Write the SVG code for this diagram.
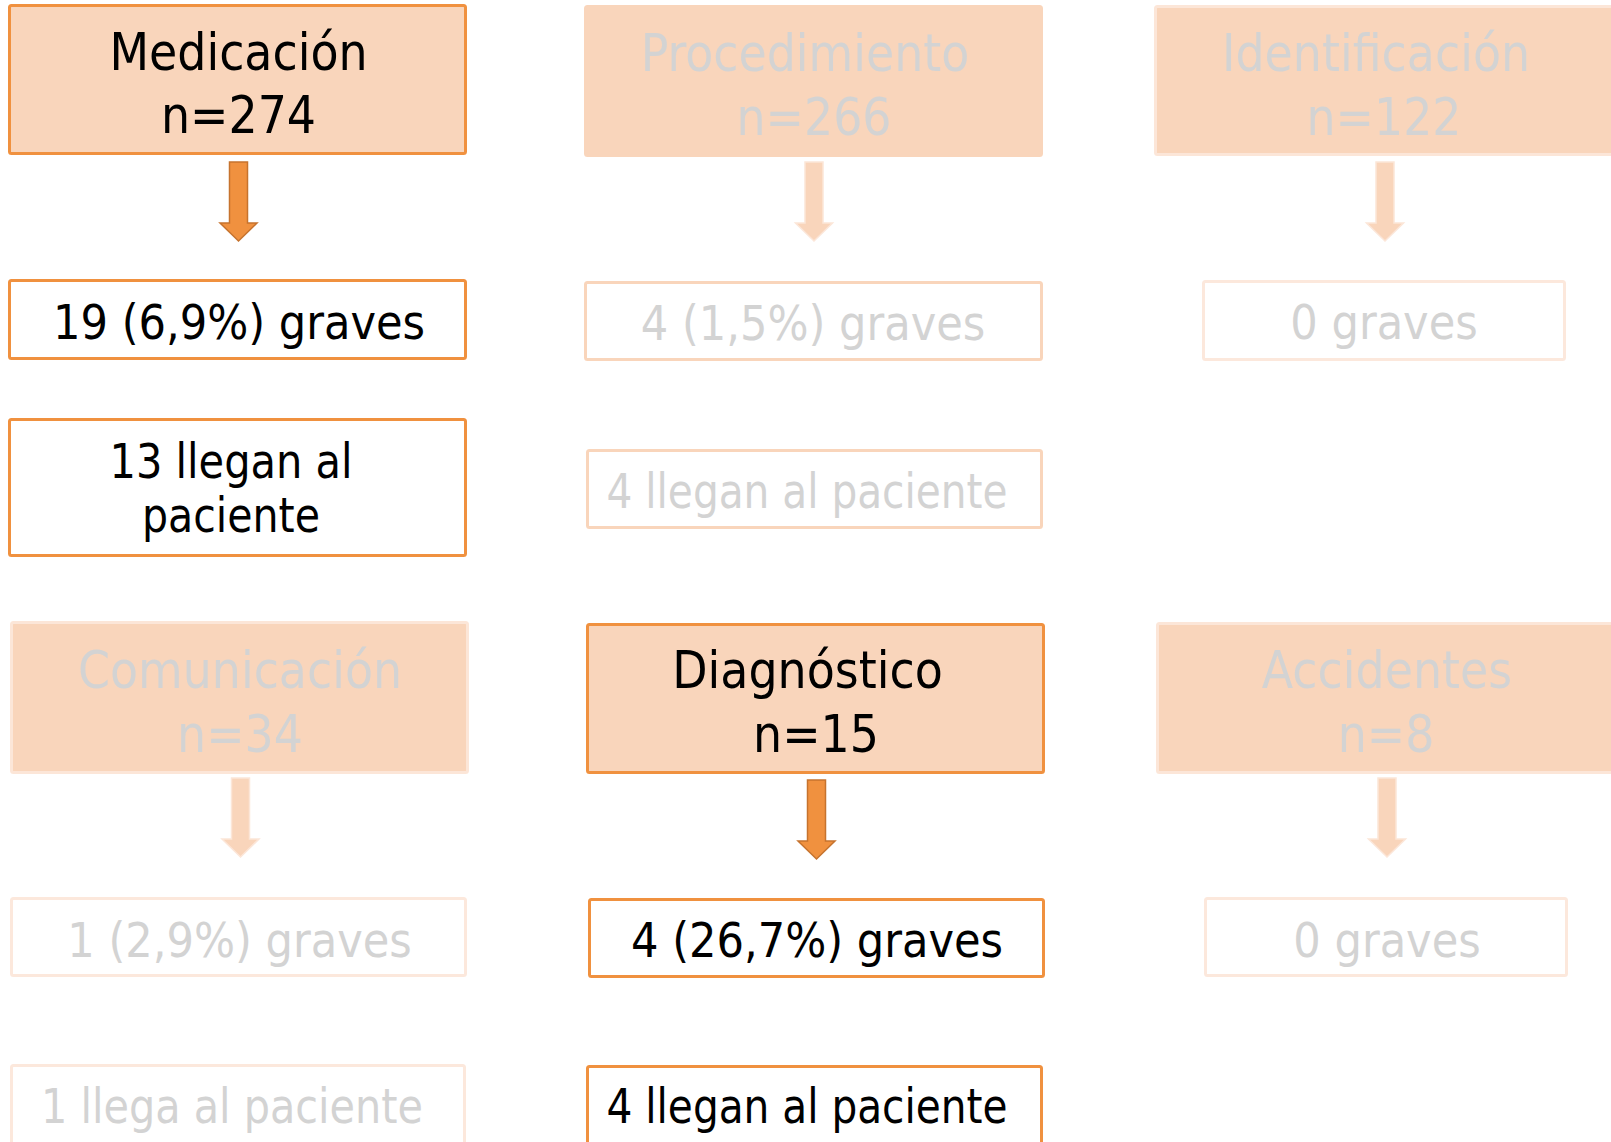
<svg xmlns="http://www.w3.org/2000/svg" width="1611" height="1142" viewBox="0 0 1611 1142">
<style>
text{font-family:"DejaVu Sans Condensed","DejaVu Sans",sans-serif;text-anchor:middle}
.t{font-size:51px}
.b{font-size:48px}
.dark{fill:#000}
.fade{fill:#D3D3D3}
.hi{fill:#F9D5BB;stroke:#F0913F;stroke-width:3}
.hiw{fill:#fff;stroke:#F0913F;stroke-width:3}
.lo{fill:#F9D5BB;stroke:#FCE6D8;stroke-width:3}
.lo0{fill:#F9D5BB;stroke:#F9D5BB;stroke-width:3}
.low{fill:#fff;stroke:#F9D5BB;stroke-width:3}
.low2{fill:#fff;stroke:#FCE8DC;stroke-width:3}
.ahi{fill:#F0913F;stroke:#C6732E;stroke-width:1.5}
.alo{fill:#F9D5BB;stroke:#FCE6D8;stroke-width:1.5}
</style>
<defs>
<path id="arr" d="M-9,0 H9 V61 H18.5 L0,79 L-18.5,61 H-9 Z"/>
</defs>
<rect width="1611" height="1142" fill="#fff"/>
<g id="connectors">
<use href="#arr" class="ahi" x="238.5" y="162"/>
<use href="#arr" class="alo" x="814" y="162"/>
<use href="#arr" class="alo" x="1385" y="162"/>
<use href="#arr" class="alo" x="240.5" y="778"/>
<use href="#arr" class="ahi" x="816.5" y="780"/>
<use href="#arr" class="alo" x="1387" y="778"/>
</g>
<g id="medicacion">
<rect class="hi" x="9.5" y="5.5" width="456" height="148" rx="2"/>
<text class="t dark" x="238.5" y="70">Medicación</text>
<text class="t dark" x="238.5" y="133">n=274</text>
</g>
<g id="procedimiento">
<rect class="lo0" x="585.5" y="6.5" width="456" height="149" rx="2"/>
<text class="t fade" x="805" y="71">Procedimiento</text>
<text class="t fade" x="814" y="135">n=266</text>
</g>
<g id="identificacion">
<rect class="lo" x="1155.5" y="6.5" width="470" height="148" rx="2"/>
<text class="t fade" x="1376" y="71">Identificación</text>
<text class="t fade" x="1384" y="135">n=122</text>
</g>
<g id="med-graves">
<rect class="hiw" x="9.5" y="280.5" width="456" height="78" rx="2"/>
<text class="b dark" x="239" y="339">19 (6,9%) graves</text>
</g>
<g id="med-llegan">
<rect class="hiw" x="9.5" y="419.5" width="456" height="136" rx="2"/>
<text class="b dark" x="231" y="478" textLength="243" lengthAdjust="spacingAndGlyphs">13 llegan al</text>
<text class="b dark" x="231" y="532" textLength="178" lengthAdjust="spacingAndGlyphs">paciente</text>
</g>
<g id="proc-graves">
<rect class="low" x="585.5" y="282.5" width="456" height="77" rx="2"/>
<text class="b fade" x="813" y="340">4 (1,5%) graves</text>
</g>
<g id="proc-llegan">
<rect class="low" x="587.5" y="450.5" width="454" height="77" rx="2"/>
<text class="b fade" x="807" y="508" textLength="401" lengthAdjust="spacingAndGlyphs">4 llegan al paciente</text>
</g>
<g id="ident-graves">
<rect class="low2" x="1203.5" y="281.5" width="361" height="78" rx="2"/>
<text class="b fade" x="1384" y="339">0 graves</text>
</g>
<g id="comunicacion">
<rect class="lo" x="11.5" y="622.5" width="456" height="150" rx="2"/>
<text class="t fade" x="240" y="688">Comunicación</text>
<text class="t fade" x="240" y="752">n=34</text>
</g>
<g id="diagnostico">
<rect class="hi" x="587.5" y="624.5" width="456" height="148" rx="2"/>
<text class="t dark" x="807.5" y="688">Diagnóstico</text>
<text class="t dark" x="816" y="752">n=15</text>
</g>
<g id="accidentes">
<rect class="lo" x="1157.5" y="623.5" width="470" height="149" rx="2"/>
<text class="t fade" x="1387" y="688">Accidentes</text>
<text class="t fade" x="1386" y="752">n=8</text>
</g>
<g id="com-graves">
<rect class="low2" x="11.5" y="898.5" width="454" height="77" rx="2"/>
<text class="b fade" x="239.5" y="957">1 (2,9%) graves</text>
</g>
<g id="diag-graves">
<rect class="hiw" x="589.5" y="899.5" width="454" height="77" rx="2"/>
<text class="b dark" x="817" y="957">4 (26,7%) graves</text>
</g>
<g id="acc-graves">
<rect class="low2" x="1205.5" y="898.5" width="361" height="77" rx="2"/>
<text class="b fade" x="1387" y="957">0 graves</text>
</g>
<g id="com-llega">
<rect class="low2" x="11.5" y="1065.5" width="453" height="90" rx="2"/>
<text class="b fade" x="232" y="1123" textLength="382" lengthAdjust="spacingAndGlyphs">1 llega al paciente</text>
</g>
<g id="diag-llegan">
<rect class="hiw" x="587.5" y="1066.5" width="454" height="90" rx="2"/>
<text class="b dark" x="807" y="1123" textLength="401" lengthAdjust="spacingAndGlyphs">4 llegan al paciente</text>
</g>
</svg>
